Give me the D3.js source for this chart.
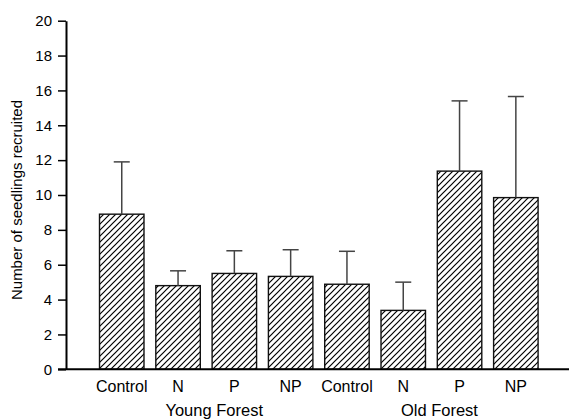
<!DOCTYPE html>
<html>
<head>
<meta charset="utf-8">
<script src="https://cdn.jsdelivr.net/npm/d3@7"></script>
<style>
	body { margin: 0; background: #fff; }
	text { font-family: "Liberation Sans", Arial, sans-serif; fill: #000; }
</style>
</head>
<body>
<script>
// Seedling recruitment by treatment, young vs old forest
var treatments = ["Control", "N", "P", "NP", "Control", "N", "P", "NP"];
var forests = ["Young Forest", "Old Forest"];
var forestOf = [0, 0, 0, 0, 1, 1, 1, 1];
var means = [8.9, 4.8, 5.5, 5.33, 4.88, 3.38, 11.37, 9.85];
var upperErr = [11.9, 5.65, 6.8, 6.86, 6.77, 5.0, 15.4, 15.65];
var yTicks = [0, 2, 4, 6, 8, 10, 12, 14, 16, 18, 20];

var width = 569, height = 419;
var margin = {top: 20.7, bottom: 49.7, left: 66};

var svg = d3.select("body").append("svg")
	.attr("width", width)
	.attr("height", height);

// hatch fill for the bars
var defs = svg.append("defs");
defs.append("pattern")
	.attr("id", "hatch")
	.attr("patternUnits", "userSpaceOnUse")
	.attr("width", 6)
	.attr("height", 6)
	.append("path")
		.attr("d", "M-1,1 l2,-2 M0,6 l6,-6 M5,7 l2,-2")
		.attr("stroke", "#000")
		.attr("stroke-width", 1.2);

var yScale = d3.scaleLinear()
	.domain([0, 20])
	.range([height - margin.bottom, margin.top]);

var xScale = d3.scaleBand()
	.domain(d3.range(treatments.length))
	.range([93.6, 544])
	.paddingInner(0.21)
	.paddingOuter(0.105);

// bars
svg.selectAll(".bar")
	.data(means)
	.enter().append("rect")
		.attr("class", "bar")
		.attr("x", function(d, i) { return xScale(i); })
		.attr("y", function(d) { return yScale(d); })
		.attr("width", xScale.bandwidth())
		.attr("height", function(d) { return yScale(0) - yScale(d); })
		.attr("fill", "url(#hatch)")
		.attr("stroke", "#111")
		.attr("stroke-width", 1.4);

// error bars (upper only)
var err = svg.selectAll(".err")
	.data(upperErr)
	.enter().append("g")
		.attr("class", "err")
		.attr("stroke", "#444")
		.attr("stroke-width", 1.5);
err.append("line")
	.attr("x1", function(d, i) { return xScale(i) + xScale.bandwidth() / 2; })
	.attr("x2", function(d, i) { return xScale(i) + xScale.bandwidth() / 2; })
	.attr("y1", function(d, i) { return yScale(means[i]); })
	.attr("y2", function(d) { return yScale(d); });
err.append("line")
	.attr("x1", function(d, i) { return xScale(i) + xScale.bandwidth() / 2 - 8; })
	.attr("x2", function(d, i) { return xScale(i) + xScale.bandwidth() / 2 + 8; })
	.attr("y1", function(d) { return yScale(d); })
	.attr("y2", function(d) { return yScale(d); });

// y axis
var yAxis = d3.axisLeft(yScale)
	.tickValues(yTicks)
	.tickSize(8)
	.tickPadding(6)
	.tickSizeOuter(0);
var gy = svg.append("g")
	.attr("transform", "translate(" + margin.left + ",0)")
	.call(yAxis);
gy.select(".domain").attr("stroke-width", 2);
gy.selectAll(".tick line").attr("stroke-width", 1.5);
gy.selectAll(".tick text")
	.style("font-size", "15px")
	.style("font-family", "'Liberation Sans', Arial, sans-serif");

// x axis line
svg.append("line")
	.attr("x1", margin.left - 8)
	.attr("x2", width)
	.attr("y1", yScale(0))
	.attr("y2", yScale(0))
	.attr("stroke", "#000")
	.attr("stroke-width", 2);

// treatment labels
svg.selectAll(".cat")
	.data(treatments)
	.enter().append("text")
		.attr("class", "cat")
		.attr("x", function(d, i) { return xScale(i) + xScale.bandwidth() / 2; })
		.attr("y", 391.5)
		.attr("text-anchor", "middle")
		.style("font-size", "16px")
		.text(function(d) { return d; });

// forest group labels
svg.selectAll(".grp")
	.data(forests)
	.enter().append("text")
		.attr("class", "grp")
		.attr("x", function(d, g) {
			var idx = d3.range(treatments.length).filter(function(i) { return forestOf[i] === g; });
			return (xScale(idx[0]) + xScale(idx[idx.length - 1]) + xScale.bandwidth()) / 2 + 8;
		})
		.attr("y", 415.5)
		.attr("text-anchor", "middle")
		.style("font-size", "16.5px")
		.text(function(d) { return d; });

// y label
svg.append("text")
	.attr("transform", "translate(22," + 200 + ") rotate(-90)")
	.attr("text-anchor", "middle")
	.style("font-size", "15px")
	.text("Number of seedlings recruited");
</script>
</body>
</html>
